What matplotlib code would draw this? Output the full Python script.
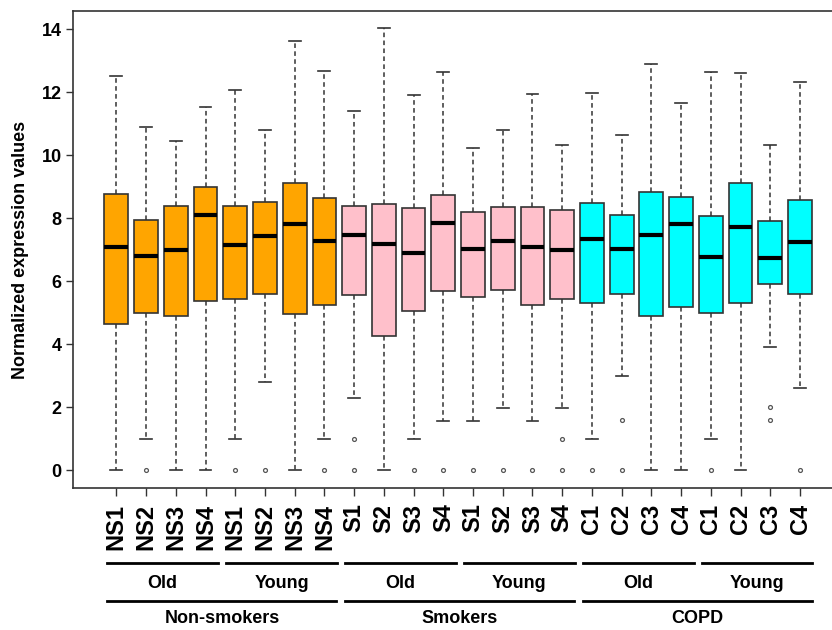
import numpy as np
import matplotlib
matplotlib.use("Agg")
import matplotlib.pyplot as plt
from matplotlib.transforms import blended_transform_factory

plt.rcParams["font.family"] = ["Liberation Sans", "DejaVu Sans"]
plt.rcParams["font.weight"] = "bold"

# per-sample summary stats (normalized expression)
samples = ["NS1", "NS2", "NS3", "NS4", "NS1", "NS2", "NS3", "NS4",
           "S1", "S2", "S3", "S4", "S1", "S2", "S3", "S4",
           "C1", "C2", "C3", "C4", "C1", "C2", "C3", "C4"]
whislo = [0.0, 1.0, 0.0, 0.0, 1.0, 2.79, 0.0, 1.0,
          2.31, 0.0, 1.0, 1.57, 1.57, 1.99, 1.57, 1.99,
          1.0, 3.01, 0.0, 0.0, 1.0, 0.0, 3.91, 2.60]
q1 = [4.66, 4.99, 4.90, 5.38, 5.44, 5.60, 4.97, 5.26,
      5.58, 4.26, 5.06, 5.70, 5.49, 5.73, 5.26, 5.44,
      5.30, 5.60, 4.90, 5.20, 4.99, 5.32, 5.92, 5.60]
med = [7.08, 6.79, 7.01, 8.09, 7.16, 7.43, 7.81, 7.27,
       7.46, 7.17, 6.89, 7.84, 7.04, 7.27, 7.08, 7.01,
       7.33, 7.04, 7.46, 7.81, 6.76, 7.71, 6.73, 7.24]
q3 = [8.77, 7.96, 8.40, 9.00, 8.40, 8.51, 9.11, 8.63,
      8.40, 8.47, 8.32, 8.73, 8.19, 8.37, 8.37, 8.25,
      8.49, 8.11, 8.82, 8.67, 8.06, 9.12, 7.93, 8.57]
whishi = [12.51, 10.91, 10.46, 11.54, 12.07, 10.81, 13.64, 12.67,
          11.42, 14.04, 11.90, 12.64, 10.24, 10.81, 11.96, 10.33,
          11.99, 10.65, 12.89, 11.67, 12.64, 12.61, 10.33, 12.32]
outliers = [[], [0], [], [], [0], [0], [], [0],
            [1.0, 0], [], [0], [0], [0], [0], [0], [1.0, 0],
            [0], [1.59, 0], [], [], [0], [], [2.01, 1.59], [0]]
colors = ["orange"] * 8 + ["pink"] * 8 + ["cyan"] * 8

age_groups = ["Old", "Young", "Old", "Young", "Old", "Young"]
status_groups = ["Non-smokers", "Smokers", "COPD"]

fig = plt.figure(figsize=(8.32, 6.3), dpi=100)
ax = fig.add_axes([0.0877, 0.2249, 0.926, 0.7576])

stats = [dict(whislo=a, q1=b, med=c, q3=d, whishi=e, fliers=f)
         for a, b, c, d, e, f in zip(whislo, q1, med, q3, whishi, outliers)]
pos = np.arange(1, len(samples) + 1)
bp = ax.bxp(stats, positions=pos, widths=0.8, patch_artist=True, showfliers=True,
            boxprops=dict(edgecolor="#333333", linewidth=1.2),
            medianprops=dict(color="black", linewidth=3, solid_capstyle="butt"),
            whiskerprops=dict(color="#333333", linewidth=1.1, linestyle=(0, (3, 2.2))),
            capprops=dict(color="#333333", linewidth=1.2),
            capwidths=0.4,
            flierprops=dict(marker="o", markersize=2.8, markerfacecolor="none",
                            markeredgecolor="#555555", markeredgewidth=0.9))
for patch, c in zip(bp["boxes"], colors):
    patch.set_facecolor(c)

ax.set_xlim(-0.46, 25.46)
ax.set_ylim(-0.57, 14.58)
ax.set_yticks(np.arange(0, 15, 2))
ax.set_xticks(pos)
ax.set_xticklabels(samples, rotation=90, fontsize=17, fontweight="bold")
ax.tick_params(axis="x", length=6, width=1, color="#333333", pad=5)
ax.tick_params(axis="y", length=5, width=1, color="#333333", pad=3, labelsize=13)
for lbl in ax.get_yticklabels():
    lbl.set_fontweight("bold")
for sp in ax.spines.values():
    sp.set_color("#333333")
    sp.set_linewidth(1.2)
ax.set_ylabel("Normalized expression values", fontsize=13, fontweight="bold", labelpad=9)

# grouping bars and labels under the axis
tr = blended_transform_factory(ax.transData, fig.transFigure)
for i, name in enumerate(age_groups):
    x0, x1 = pos[4 * i] - 0.3, pos[4 * i + 3] + 0.42
    ax.plot([x0, x1], [0.1068, 0.1068], color="black", lw=2, transform=tr, clip_on=False)
    ax.text((x0 + x1) / 2, 0.0741, name, transform=tr, ha="center", va="center",
            fontsize=13, fontweight="bold")
for i, name in enumerate(status_groups):
    x0, x1 = pos[8 * i] - 0.3, pos[8 * i + 7] + 0.4
    ax.plot([x0, x1], [0.046, 0.046], color="black", lw=2, transform=tr, clip_on=False)
    ax.text((x0 + x1) / 2, 0.0175, name, transform=tr, ha="center", va="center",
            fontsize=13, fontweight="bold")

fig.savefig("out.png", dpi=100)
